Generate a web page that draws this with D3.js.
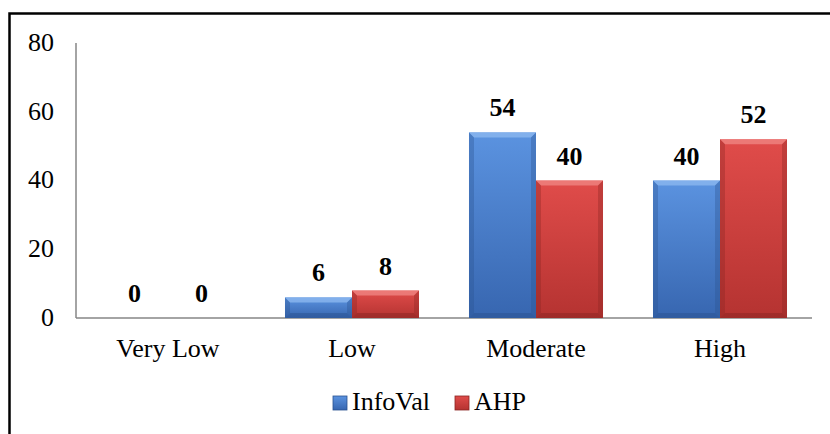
<!DOCTYPE html>
<html>
<head>
<meta charset="utf-8">
<script src="https://cdn.jsdelivr.net/npm/d3@7"></script>
</head>
<body style="margin:0">
<script>
const width = 830;
const height = 434;
const fontFamily = "Liberation Serif";
const fontSize = 26;

const categories = ["Very Low", "Low", "Moderate", "High"];
const seriesNames = ["InfoVal", "AHP"];
const infoVal = [0, 6, 54, 40];
const ahp = [0, 8, 40, 52];
const yTicks = [0, 20, 40, 60, 80];

const colors = {
  InfoVal: { top: "#5b93e0", bottom: "#3766b0", light: "#8fbaf0", dark: "#2a5290" },
  AHP: { top: "#e04c4a", bottom: "#b53331", light: "#f08886", dark: "#8a2422" }
};

const margin = { left: 76, right: 18, top: 43, bottom: 116 };

const svg = d3.select("body").append("svg")
  .attr("width", width)
  .attr("height", height);

// outer frame (right and bottom edges fall outside the picture)
svg.append("path")
  .attr("d", "M9.5," + height + " V13.5 H" + width)
  .attr("fill", "none")
  .attr("stroke", "#000")
  .attr("stroke-width", 2.5);

const x0 = d3.scaleBand()
  .domain(categories)
  .range([margin.left, width - margin.right]);

const x1 = d3.scaleBand()
  .domain(seriesNames)
  .range([0, x0.bandwidth()])
  .paddingInner(0)
  .paddingOuter(0.373);

const y = d3.scaleLinear()
  .domain([0, 80])
  .range([height - margin.bottom, margin.top]);

const defs = svg.append("defs");
seriesNames.forEach(function (name) {
  const g = defs.append("linearGradient")
    .attr("id", "grad-" + name)
    .attr("x1", 0).attr("y1", 0).attr("x2", 0).attr("y2", 1);
  g.append("stop").attr("offset", "0%").attr("stop-color", colors[name].top);
  g.append("stop").attr("offset", "100%").attr("stop-color", colors[name].bottom);
});

// axes
svg.append("line")
  .attr("x1", margin.left).attr("x2", margin.left)
  .attr("y1", y(80)).attr("y2", y(0))
  .attr("stroke", "#868686").attr("stroke-width", 1.5);

svg.append("line")
  .attr("x1", margin.left).attr("x2", width - margin.right)
  .attr("y1", y(0)).attr("y2", y(0))
  .attr("stroke", "#868686").attr("stroke-width", 1.5);

svg.selectAll(".ytick")
  .data(yTicks)
  .enter()
  .append("text")
  .attr("class", "ytick")
  .attr("x", 54)
  .attr("y", function (d) { return y(d); })
  .attr("dy", "0.3em")
  .attr("text-anchor", "end")
  .attr("font-size", fontSize)
  .attr("font-family", fontFamily)
  .text(function (d) { return d; });

svg.selectAll(".xlabel")
  .data(categories)
  .enter()
  .append("text")
  .attr("class", "xlabel")
  .attr("x", function (d) { return x0(d) + x0.bandwidth() / 2; })
  .attr("y", 357)
  .attr("text-anchor", "middle")
  .attr("font-size", fontSize)
  .attr("font-family", fontFamily)
  .text(function (d) { return d; });

// bars
const rows = categories.map(function (c, i) {
  return { cat: c, values: [
    { name: "InfoVal", value: infoVal[i] },
    { name: "AHP", value: ahp[i] }
  ] };
});

const groups = svg.selectAll(".group")
  .data(rows)
  .enter()
  .append("g")
  .attr("transform", function (d) { return "translate(" + x0(d.cat) + ",0)"; });

const bars = groups.selectAll(".bar")
  .data(function (d) { return d.values.filter(function (v) { return v.value > 0; }); })
  .enter()
  .append("g");

function bevel(d) {
  const bx = x1(d.name), bw = x1.bandwidth();
  const top = y(d.value), bot = y(0);
  const b = Math.min(5, (bot - top) / 2);
  return { bx: bx, bw: bw, top: top, bot: bot, b: b };
}

bars.append("rect")
  .attr("x", function (d) { return x1(d.name); })
  .attr("y", function (d) { return y(d.value); })
  .attr("width", x1.bandwidth())
  .attr("height", function (d) { return y(0) - y(d.value); })
  .attr("fill", function (d) { return "url(#grad-" + d.name + ")"; });

// top bevel
bars.append("path")
  .attr("d", function (d) {
    const k = bevel(d);
    return "M" + k.bx + "," + k.top + " H" + (k.bx + k.bw) +
      " L" + (k.bx + k.bw - k.b) + "," + (k.top + k.b) +
      " H" + (k.bx + k.b) + " Z";
  })
  .attr("fill", function (d) { return colors[d.name].light; })
  .attr("opacity", 0.75);

// side bevels
bars.append("path")
  .attr("d", function (d) {
    const k = bevel(d);
    return "M" + k.bx + "," + k.top + " L" + (k.bx + k.b) + "," + (k.top + k.b) +
      " V" + (k.bot - k.b) + " L" + k.bx + "," + k.bot + " Z" +
      " M" + (k.bx + k.bw) + "," + k.top + " L" + (k.bx + k.bw - k.b) + "," + (k.top + k.b) +
      " V" + (k.bot - k.b) + " L" + (k.bx + k.bw) + "," + k.bot + " Z";
  })
  .attr("fill", function (d) { return colors[d.name].dark; })
  .attr("opacity", 0.35);

// bottom bevel
bars.append("path")
  .attr("d", function (d) {
    const k = bevel(d);
    return "M" + k.bx + "," + k.bot + " H" + (k.bx + k.bw) +
      " L" + (k.bx + k.bw - k.b) + "," + (k.bot - k.b) +
      " H" + (k.bx + k.b) + " Z";
  })
  .attr("fill", function (d) { return colors[d.name].dark; })
  .attr("opacity", 0.5);

// value labels
groups.selectAll(".val")
  .data(function (d) { return d.values; })
  .enter()
  .append("text")
  .attr("class", "val")
  .attr("x", function (d) { return x1(d.name) + x1.bandwidth() / 2; })
  .attr("y", function (d) { return y(d.value) - 16; })
  .attr("text-anchor", "middle")
  .attr("font-size", fontSize)
  .attr("font-weight", "bold")
  .attr("font-family", fontFamily)
  .text(function (d) { return d.value; });

// legend
const legendX = [333, 455];
const legend = svg.selectAll(".legend")
  .data(seriesNames)
  .enter()
  .append("g")
  .attr("transform", function (d, i) { return "translate(" + legendX[i] + ",396)"; });

legend.append("rect")
  .attr("width", 14)
  .attr("height", 14)
  .attr("fill", function (d) { return "url(#grad-" + d + ")"; })
  .attr("stroke", function (d) { return colors[d].dark; })
  .attr("stroke-width", 0.8);

legend.append("text")
  .attr("x", 19)
  .attr("y", 14)
  .attr("font-size", fontSize)
  .attr("font-family", fontFamily)
  .text(function (d) { return d; });
</script>
</body>
</html>
